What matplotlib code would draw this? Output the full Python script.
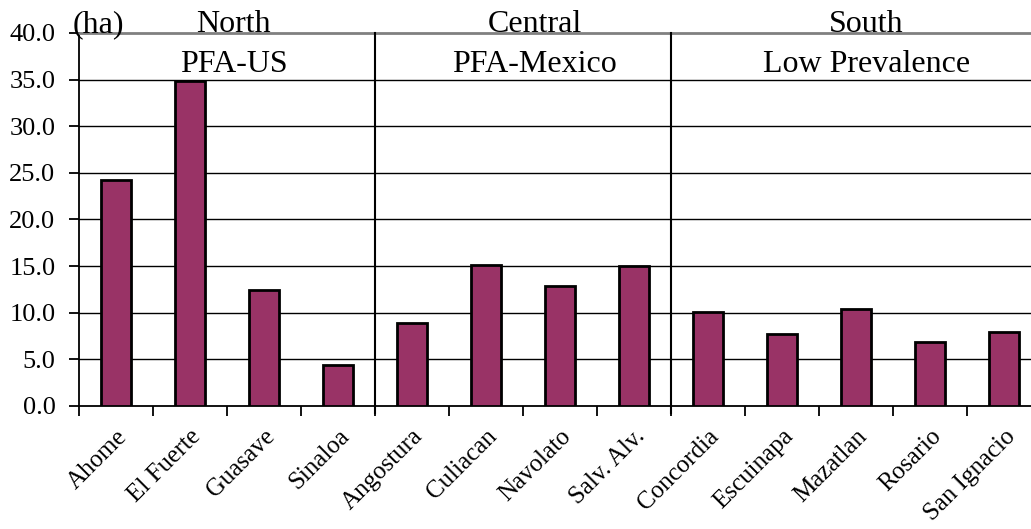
import matplotlib
matplotlib.use("Agg")
import matplotlib.pyplot as plt
import numpy as np

# municipalities and average area per farm (ha)
municipios = ["Ahome", "El Fuerte", "Guasave", "Sinaloa",
              "Angostura", "Culiacan", "Navolato", "Salv. Alv.",
              "Concordia", "Escuinapa", "Mazatlan", "Rosario", "San Ignacio"]
area_ha = [24.2, 34.9, 12.4, 4.4,
           8.9, 15.1, 12.9, 15.0,
           10.1, 7.7, 10.4, 6.9, 7.9]

# region headings
region_names = ["North", "Central", "South"]
region_status = ["PFA-US", "PFA-Mexico", "Low Prevalence"]
region_breaks = [3.5, 7.5]

plt.rcParams['font.family'] = ['Liberation Serif', 'DejaVu Serif']

fig = plt.figure(figsize=(10.31, 5.29), dpi=100)
W, H = 1031, 529
ax = fig.add_axes([79 / W, (H - 406) / H, (1041 - 79) / W, (406 - 33) / H])

x = np.arange(len(municipios))
ax.bar(x, area_ha, width=0.4, color="#993366", edgecolor="black",
       linewidth=2, zorder=3)

ax.set_xlim(-0.5, len(municipios) - 0.5)
ax.set_ylim(0, 40)
ax.set_yticks(np.arange(0, 41, 5))
ax.set_yticklabels(["%.1f" % v for v in np.arange(0, 41, 5)], fontsize=19)

# gridlines
for v in np.arange(5, 40, 5):
    ax.axhline(v, color="black", linewidth=1, zorder=1)

ax.spines['top'].set_color("#808080")
ax.spines['top'].set_linewidth(2)
ax.spines['right'].set_visible(False)
ax.spines['left'].set_linewidth(1.3)
ax.spines['bottom'].set_linewidth(1.3)

# category labels between boundary ticks
ax.set_xticks(x)
ax.set_xticklabels(municipios, rotation=45, ha="right", va="top",
                   rotation_mode="anchor", fontsize=18)
ax.tick_params(axis="x", which="major", length=0, pad=14)
ax.set_xticks(np.arange(-0.5, len(municipios)), minor=True)
ax.tick_params(axis="x", which="minor", length=7, width=1.3, direction="out")
ax.tick_params(axis="y", length=7, width=1.3, direction="out", pad=10)

# region separators
for b in region_breaks:
    ax.plot([b, b], [-0.75, 40], color="black", linewidth=1.5,
            clip_on=False, zorder=4)

head_x = [1.59, 5.66, 10.14]
for hx, name, status in zip(head_x, region_names, region_status):
    ax.text(hx, 40.1, name, ha="center", va="baseline", fontsize=23,
            clip_on=False)
    ax.text(hx, 35.8, status, ha="center", va="baseline", fontsize=23)

ax.text(-0.24, 40.1, "(ha)", ha="center", va="baseline", fontsize=23,
        clip_on=False)

fig.savefig("out.png", dpi=100)
